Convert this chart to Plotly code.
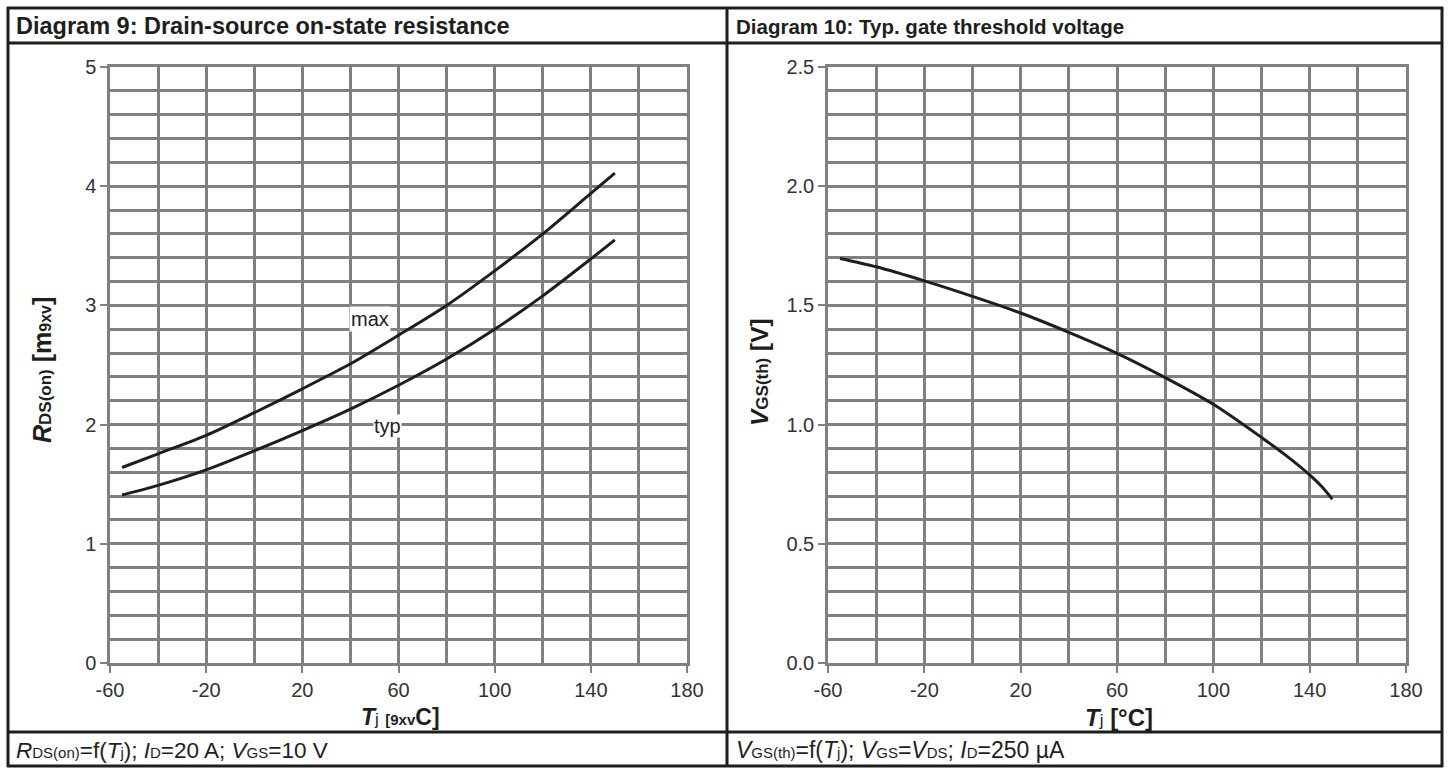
import plotly.graph_objects as go

W, H = 1448, 770

# ---------------- data ----------------
tj_rds = [-55, -40, -20, 0, 20, 40, 60, 80, 100, 120, 140, 150]
rds_max = [1.64, 1.755, 1.91, 2.10, 2.30, 2.51, 2.75, 3.00, 3.29, 3.60, 3.94, 4.11]
rds_typ = [1.41, 1.49, 1.62, 1.78, 1.95, 2.13, 2.33, 2.55, 2.80, 3.08, 3.39, 3.55]

tj_vth = [-55, -40, -20, 0, 20, 40, 60, 80, 100, 120, 130, 140, 145, 149.4]
vgs_th = [1.697, 1.662, 1.603, 1.538, 1.468, 1.387, 1.299, 1.197, 1.085, 0.946, 0.872, 0.789, 0.740, 0.687]

x_ticks = [-60, -20, 20, 60, 100, 140, 180]
x_ticklabels = ["-60", "-20", "20", "60", "100", "140", "180"]
y1_ticks = [0, 1, 2, 3, 4, 5]
y1_ticklabels = ["0", "1", "2", "3", "4", "5"]
y2_ticks = [0.0, 0.5, 1.0, 1.5, 2.0, 2.5]
y2_ticklabels = ["0.0", "0.5", "1.0", "1.5", "2.0", "2.5"]

S = "<span style='font-size:15px'>"
title_left = "<b>Diagram 9: Drain-source on-state resistance</b>"
title_right = "<b>Diagram 10: Typ. gate threshold voltage</b>"
caption_left = ("<i>R</i>" + S + "DS(on)</span>=f(<i>T</i>" + S + "j</span>); <i>I</i>" + S + "D</span>=20 A; "
                "<i>V</i>" + S + "GS</span>=10 V")
caption_right = ("<i>V</i>" + S + "GS(th)</span>=f(<i>T</i>" + S + "j</span>); <i>V</i>" + S + "GS</span>=<i>V</i>"
                 + S + "DS</span>; <i>I</i>" + S + "D</span>=250 µA")
xtitle_left = "<b><i>T</i></b><span style='font-size:17px'>j</span> <b><span style='font-size:15px'>[9xv</span>C]</b>"
xtitle_right = "<b><i>T</i></b><span style='font-size:17px'>j</span> <b>[°C]</b>"
ytitle_left = "<b><i>R</i><span style='font-size:17px'>DS(on)</span> [m<span style='font-size:16px'>9xv</span>]</b>"
ytitle_right = "<b><i>V</i><span style='font-size:17px'>GS(th)</span> [V]</b>"

FONT = "Liberation Sans, Arial, sans-serif"
GRID = "#808080"
INK = "#1e1e1e"


def px(x):
    return x / W


def py(y):
    return 1 - y / H


fig = go.Figure()
for xs, ys, xa, ya in [(tj_rds, rds_max, "x", "y"), (tj_rds, rds_typ, "x", "y"), (tj_vth, vgs_th, "x2", "y2")]:
    fig.add_trace(go.Scatter(x=xs, y=ys, mode="lines",
                             line=dict(color=INK, width=3, shape="spline", smoothing=0.8),
                             xaxis=xa, yaxis=ya, showlegend=False, hoverinfo="skip"))


def xax(domain):
    return dict(domain=domain, range=[-60, 180], tickvals=x_ticks, ticktext=x_ticklabels,
                ticks="outside", ticklen=7, tickwidth=2, tickcolor=GRID,
                showgrid=True, gridcolor=GRID, gridwidth=2.5,
                minor=dict(tick0=-60, dtick=20, showgrid=True, gridcolor=GRID, gridwidth=2.5, ticks=""),
                showline=True, mirror=True, linecolor=GRID, linewidth=2.5, zeroline=False,
                automargin=False,
                tickfont=dict(family=FONT, size=20, color="#333"), fixedrange=True)


def yax(domain, rng, tickvals, ticktext, dminor, anchor):
    return dict(domain=domain, range=rng, tickvals=tickvals, ticktext=ticktext,
                ticks="outside", ticklen=7, tickwidth=2, tickcolor=GRID,
                showgrid=True, gridcolor=GRID, gridwidth=2.5,
                minor=dict(tick0=0, dtick=dminor, showgrid=True, gridcolor=GRID, gridwidth=2.5, ticks=""),
                showline=True, mirror=True, linecolor=GRID, linewidth=2.5, zeroline=False,
                automargin=False,
                tickfont=dict(family=FONT, size=20, color="#333"), anchor=anchor, fixedrange=True)


ydom = [py(663), py(67)]
fig.update_layout(
    width=W, height=H, margin=dict(l=0, r=0, t=0, b=0, pad=0, autoexpand=False),
    paper_bgcolor="white", plot_bgcolor="white",
    xaxis=xax([px(110), px(687)]),
    yaxis=yax(ydom, [0, 5], y1_ticks, y1_ticklabels, 0.2, "x"),
    xaxis2=dict(xax([px(828), px(1406)]), anchor="y2"),
    yaxis2=yax(ydom, [0, 2.5], y2_ticks, y2_ticklabels, 0.1, "x2"),
)

# frame lines (pixel coordinates)
frame = [
    (7, 8, 1443, 8), (7, 43, 1443, 43), (7, 732, 1443, 732), (7, 766, 1443, 766),
    (8, 7, 8, 767), (1442, 7, 1442, 767), (727, 7, 727, 767),
]
for x0, y0, x1, y1 in frame:
    fig.add_shape(type="line", xref="paper", yref="paper", x0=px(x0), y0=py(y0), x1=px(x1), y1=py(y1),
                  line=dict(color=INK, width=3))

ann = []
ann.append(dict(text=title_left, x=px(14), y=py(26), xanchor="left", yanchor="middle",
                font=dict(family=FONT, size=23.5, color=INK)))
ann.append(dict(text=title_right, x=px(734), y=py(26), xanchor="left", yanchor="middle",
                font=dict(family=FONT, size=20.5, color=INK)))
ann.append(dict(text=caption_left, x=px(14), y=py(750), xanchor="left", yanchor="middle",
                font=dict(family=FONT, size=22.5, color=INK)))
ann.append(dict(text=caption_right, x=px(734), y=py(750), xanchor="left", yanchor="middle",
                font=dict(family=FONT, size=23, color=INK)))
ann.append(dict(text=xtitle_left, x=px(400), y=py(717), xanchor="center", yanchor="middle",
                font=dict(family=FONT, size=23, color=INK)))
ann.append(dict(text=xtitle_right, x=px(1119), y=py(717), xanchor="center", yanchor="middle",
                font=dict(family=FONT, size=24, color=INK)))
ann.append(dict(text=ytitle_left, x=px(42), y=py(370), xanchor="center", yanchor="middle", textangle=-90,
                font=dict(family=FONT, size=25, color=INK)))
ann.append(dict(text=ytitle_right, x=px(760), y=py(372), xanchor="center", yanchor="middle", textangle=-90,
                font=dict(family=FONT, size=24.5, color=INK)))
for a in ann:
    a.update(xref="paper", yref="paper", showarrow=False)

# curve labels
ann.append(dict(text="max", x=48, y=2.89, xref="x", yref="y", showarrow=False, bgcolor="white",
                font=dict(family=FONT, size=20, color="#222"), borderpad=1))
ann.append(dict(text="typ", x=55.5, y=1.99, xref="x", yref="y", showarrow=False, bgcolor="white",
                font=dict(family=FONT, size=20, color="#222"), borderpad=0))
fig.update_layout(annotations=ann)

fig.write_html("out.html", config={"displayModeBar": False},
               post_script="document.body.style.margin='0px';document.body.style.overflow='hidden';")
